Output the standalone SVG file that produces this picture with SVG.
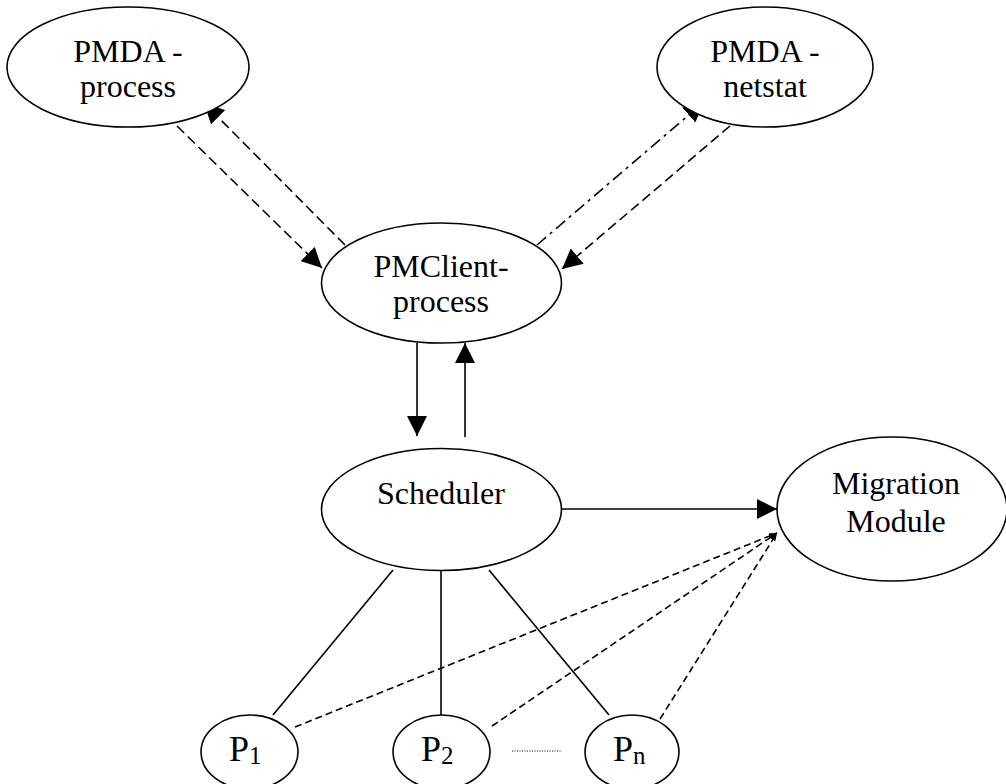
<svg xmlns="http://www.w3.org/2000/svg" width="1006" height="784" viewBox="0 0 1006 784">
<style>
  .node ellipse { fill: #fff; stroke: #000; stroke-width: 1.6; }
  .lbl { font-family: "Liberation Serif", "Times New Roman", serif; font-size: 32px; fill: #000; text-anchor: middle; }
  .plbl { font-family: "Liberation Serif", "Times New Roman", serif; font-size: 36px; fill: #000; }
  .sub { font-size: 25px; }
  .edge { fill: none; stroke: #000; stroke-width: 1.6; }
  .dash { stroke-dasharray: 10 5; }
  .dashdot { stroke-dasharray: 12 5 3 5; }
  .sdash { stroke-dasharray: 7 4; }
  .dot { stroke-width: 1; stroke-dasharray: 1 1.5; }
</style>
<defs>
  <marker id="arr" markerUnits="userSpaceOnUse" markerWidth="20" markerHeight="20" refX="20" refY="10" orient="auto" viewBox="0 0 20 20">
    <path d="M0,0 L20,10 L0,20 z" fill="#000"/>
  </marker>
  <marker id="sarr" markerUnits="userSpaceOnUse" markerWidth="8" markerHeight="6" refX="8" refY="3" orient="auto" viewBox="0 0 8 6">
    <path d="M0,0 L8,3 L0,6 z" fill="#000"/>
  </marker>
</defs>
<g id="connectors">
  <line class="edge dash" x1="177" y1="126" x2="322" y2="268" marker-end="url(#arr)"/>
  <line class="edge dash" x1="345" y1="245" x2="204" y2="103" marker-end="url(#arr)"/>
  <line class="edge dashdot" x1="537" y1="245" x2="704" y2="102" marker-end="url(#arr)"/>
  <line class="edge dash" x1="730" y1="126" x2="562" y2="269" marker-end="url(#arr)"/>
  <line class="edge" x1="417" y1="343" x2="417" y2="436" marker-end="url(#arr)"/>
  <line class="edge" x1="465" y1="437" x2="465" y2="343" marker-end="url(#arr)"/>
  <line class="edge" x1="562" y1="509" x2="777" y2="509" marker-end="url(#arr)"/>
  <line class="edge" x1="393" y1="570" x2="273" y2="715"/>
  <line class="edge" x1="441" y1="571" x2="441" y2="715"/>
  <line class="edge" x1="489" y1="570" x2="609" y2="715"/>
  <line class="edge sdash" x1="295" y1="727" x2="777" y2="533" marker-end="url(#sarr)"/>
  <line class="edge sdash" x1="492" y1="726" x2="777" y2="533" marker-end="url(#sarr)"/>
  <line class="edge sdash" x1="660" y1="719" x2="777" y2="533" marker-end="url(#sarr)"/>
  <line class="edge dot" x1="512" y1="751" x2="561" y2="751"/>
</g>
<g id="pmda-process" class="node">
  <ellipse cx="128" cy="67" rx="121" ry="60"/>
  <text class="lbl" x="128" y="62">PMDA -</text>
  <text class="lbl" x="128" y="97">process</text>
</g>
<g id="pmda-netstat" class="node">
  <ellipse cx="765" cy="67" rx="108" ry="60"/>
  <text class="lbl" x="765" y="62">PMDA -</text>
  <text class="lbl" x="765" y="97">netstat</text>
</g>
<g id="pmclient" class="node">
  <ellipse cx="441.5" cy="283" rx="120" ry="60"/>
  <text class="lbl" x="441" y="277">PMClient-</text>
  <text class="lbl" x="441" y="312">process</text>
</g>
<g id="scheduler" class="node">
  <ellipse cx="441.5" cy="509.5" rx="120" ry="61"/>
  <text class="lbl" x="441" y="504">Scheduler</text>
</g>
<g id="migration" class="node">
  <ellipse cx="892" cy="509" rx="115" ry="72"/>
  <text class="lbl" x="896" y="494">Migration</text>
  <text class="lbl" x="896" y="532">Module</text>
</g>
<g id="p1" class="node">
  <ellipse cx="249.5" cy="752" rx="48.5" ry="37"/>
  <text class="plbl" x="229" y="761">P<tspan class="sub" dy="3">1</tspan></text>
</g>
<g id="p2" class="node">
  <ellipse cx="441.5" cy="752" rx="48.5" ry="37"/>
  <text class="plbl" x="421" y="761">P<tspan class="sub" dy="3">2</tspan></text>
</g>
<g id="pn" class="node">
  <ellipse cx="632" cy="752" rx="47" ry="37"/>
  <text class="plbl" x="613" y="761">P<tspan class="sub" dy="3">n</tspan></text>
</g>
</svg>
